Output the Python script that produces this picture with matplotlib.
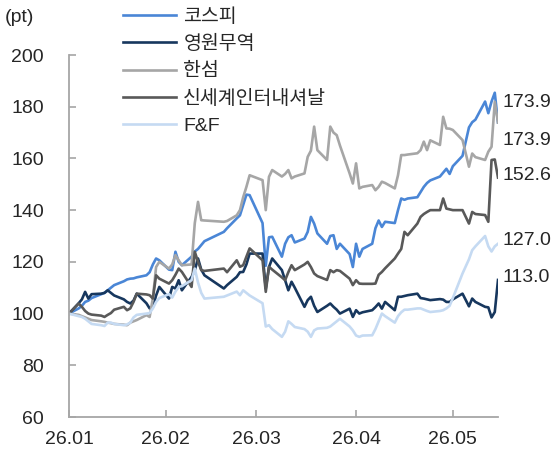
import pandas as pd
import matplotlib
matplotlib.use("Agg")
import matplotlib.pyplot as plt

plt.rcParams['font.family'] = ['Liberation Sans', 'Noto Sans CJK KR']

# trading days 2026.01.02 ~ 2026.05.15 (market holidays dropped)
dates = pd.bdate_range('2026-01-02', '2026-05-15')
dates = dates.drop(pd.to_datetime(['2026-02-16', '2026-02-17', '2026-02-18',
                                   '2026-03-02', '2026-05-05']))

names = ['코스피', '영원무역', '한섬', '신세계인터내셔날', 'F&F']

kospi = [100, 102, 103, 104.5, 105, 106, 107.5, 108, 109, 110, 111, 112.5, 113.2, 113.5, 113.6, 114, 114.8, 116, 119, 121.3, 120.6,
         117, 116.8, 123.9, 120, 118.7, 122, 124, 125, 126.5, 128, 131.6, 133, 136.8, 138, 142, 146, 145.8,
         135, 118.5, 129.5, 129.7, 122, 127, 129.5, 130.3, 127.5, 129, 131.6, 137.4, 134.8, 131, 127, 130, 130.3, 125, 127, 123, 118,
         127, 122, 125, 127, 133, 136, 133.5, 135.5, 135, 140, 144.5, 144, 144.5, 145, 147, 149, 150.5, 151.5, 153, 154.5, 156, 154,
         157, 161, 172, 174, 175, 182, 177.5, 182, 185.4, 173.9]

youngone = [100, 104, 105.5, 108.4, 105.8, 107.5, 107.7, 108, 109, 108, 107, 105.5, 104.5, 103.9, 105, 107.7, 104, 102, 102.6, 107, 110.3,
            105.8, 110.3, 109.7, 112.9, 109, 114.2, 116.8, 121.3, 117, 114.8, 109.7, 111, 114.2, 116, 116.1, 119, 123.2,
            123.2, 109.7, 118, 121.3, 116.8, 112.9, 109, 112.3, 110, 102.6, 105.2, 106.5, 103, 100.6, 103, 103.9, 102.6, 101.5, 100, 101.9, 98.7,
            101.3, 100, 100.5, 101.3, 102.5, 103.9, 101.9, 104.5, 101.3, 106.5, 106.5, 106.8, 107.1, 107.7, 106, 105.8, 105.5, 105.2, 105.6, 105.4, 104.5, 104.5,
            105.5, 107.7, 102.8, 105.8, 104.5, 102.6, 102.4, 98.5, 100.6, 113.0]

handsome = [100, 99.5, 99, 98.5, 98, 97.5, 97, 96.8, 96.5, 96.3, 96, 95.7, 95.5, 96.5, 97, 97.5, 99.4, 98.7, 106, 118, 120,
            117.4, 119, 122.6, 120.6, 118.7, 119, 135, 143.2, 136.1, 136, 135.5, 135.8, 138, 140, 145, 149, 153.5,
            151.6, 140, 152.9, 155.5, 153, 154, 155.5, 152.3, 153, 154.2, 160.6, 163, 172.3, 163.2, 159.4, 172.3, 170, 169, 165, 154.2, 150.3,
            158.1, 148.4, 149, 149.7, 147.7, 149, 151, 150.5, 148.4, 153.5, 161.3, 161.3, 161.5, 162, 163.2, 166.5, 163.2, 167, 165.2, 176.1, 171.6, 171.5,
            171, 167.1, 156.8, 161.9, 160.5, 159.4, 162.6, 164.5, 181.9, 173.9]

sikorea = [100, 103.9, 102.6, 101, 100, 99.6, 99.2, 98.7, 99.5, 100.2, 101.5, 102.6, 101.3, 102, 104.5, 107.7, 107.4, 107.1, 105.8, 114.8, 113.5,
           111.6, 112.9, 115, 117.4, 116.1, 110.3, 123.9, 120, 116.8, 116.5, 117.4, 116, 120.6, 118.1, 118.7, 122, 125.2,
           120.6, 108.4, 118.1, 117, 114, 112.9, 116, 118.7, 116.8, 119, 120, 118, 115.5, 114.5, 113, 116.8, 116, 116.8, 116.5, 113.5, 111,
           112.9, 111.6, 111.5, 111.5, 111.6, 115, 116.1, 117.5, 121.3, 123.2, 125, 131.6, 130.3, 134.8, 137.4, 138.5, 139.3, 140, 140, 144.5, 140.6, 140.3,
           140, 140, 134.8, 139.3, 138.5, 138.1, 135.5, 159.4, 159.6, 152.6]

fnf = [100, 99, 98.7, 98, 97, 96, 95.5, 95.2, 96.5, 96.5, 96, 95.5, 95.8, 96.5, 98.5, 99.5, 100, 100.2, 102, 104.5, 106,
       107.5, 106.2, 108.5, 110.3, 110.6, 112.9, 117.4, 112, 108, 105.8, 106.5, 107, 108.5, 107.1, 109, 108, 107,
       104, 95, 95.5, 94, 91, 93, 97, 96, 94.8, 94, 93, 91, 93.5, 94.2, 94.5, 95, 96, 97, 98, 95, 93.5,
       91.5, 91, 91.5, 91.6, 94, 97, 100, 99, 96.5, 99, 100.5, 101.5, 101.5, 102, 102, 101.5, 101, 100.6, 101, 101.3, 102, 103,
       106, 115.5, 121, 124.5, 126, 130, 126, 124, 126, 127]

end_labels = ['173.9', '113.0', '173.9', '152.6', '127.0']

series = [kospi, youngone, handsome, sikorea, fnf]
colors = ['#4A86D6', '#17375E', '#A6A6A6', '#595959', '#C5DAF2']
label_y = [181.8, 114.1, 167.1, 153.5, 128.4]

fig = plt.figure(figsize=(5.53, 4.53), dpi=100)
ax = fig.add_axes([69 / 553, 36 / 453, 429 / 553, 362 / 453])

for vals, name, c in zip(series, names, colors):
    ax.plot(dates, vals, color=c, lw=1.9, label=name)

# end-value labels
for txt, ly in zip(end_labels, label_y):
    ax.annotate(txt, xy=(dates[-1], ly), xytext=(3, 0), textcoords='offset points',
                va='center', ha='left', fontsize=14, color='#262626', annotation_clip=False)

ax.set_ylim(60, 200)
ax.set_yticks(range(60, 201, 20))
ax.set_xlim(dates[0], dates[-1])
xt = pd.to_datetime(['2026-01-02', '2026-02-01', '2026-03-01', '2026-04-01', '2026-05-01'])
ax.set_xticks(xt)
ax.set_xticklabels(['26.01', '26.02', '26.03', '26.04', '26.05'])

for s in ['top', 'right']:
    ax.spines[s].set_visible(False)
for s in ['left', 'bottom']:
    ax.spines[s].set_color('#A6A6A6')
    ax.spines[s].set_linewidth(1.3)
ax.tick_params(axis='both', direction='in', length=5, width=1.2, color='#A6A6A6',
               labelsize=14, labelcolor='#262626')
ax.tick_params(axis='y', pad=18)
ax.tick_params(axis='x', pad=10)

fig.text(5 / 553, 1 - 17 / 453, '(pt)', fontsize=14, va='center', ha='left', color='#262626')

leg = fig.legend(loc='upper left', bbox_to_anchor=(123 / 553, 1 - 8 / 453), frameon=False,
                 fontsize=14, handlelength=2.7, handletextpad=0.4, labelspacing=0.49,
                 borderpad=0, borderaxespad=0)
for t in leg.get_texts():
    t.set_color('#262626')

fig.savefig('out.png', dpi=100)
